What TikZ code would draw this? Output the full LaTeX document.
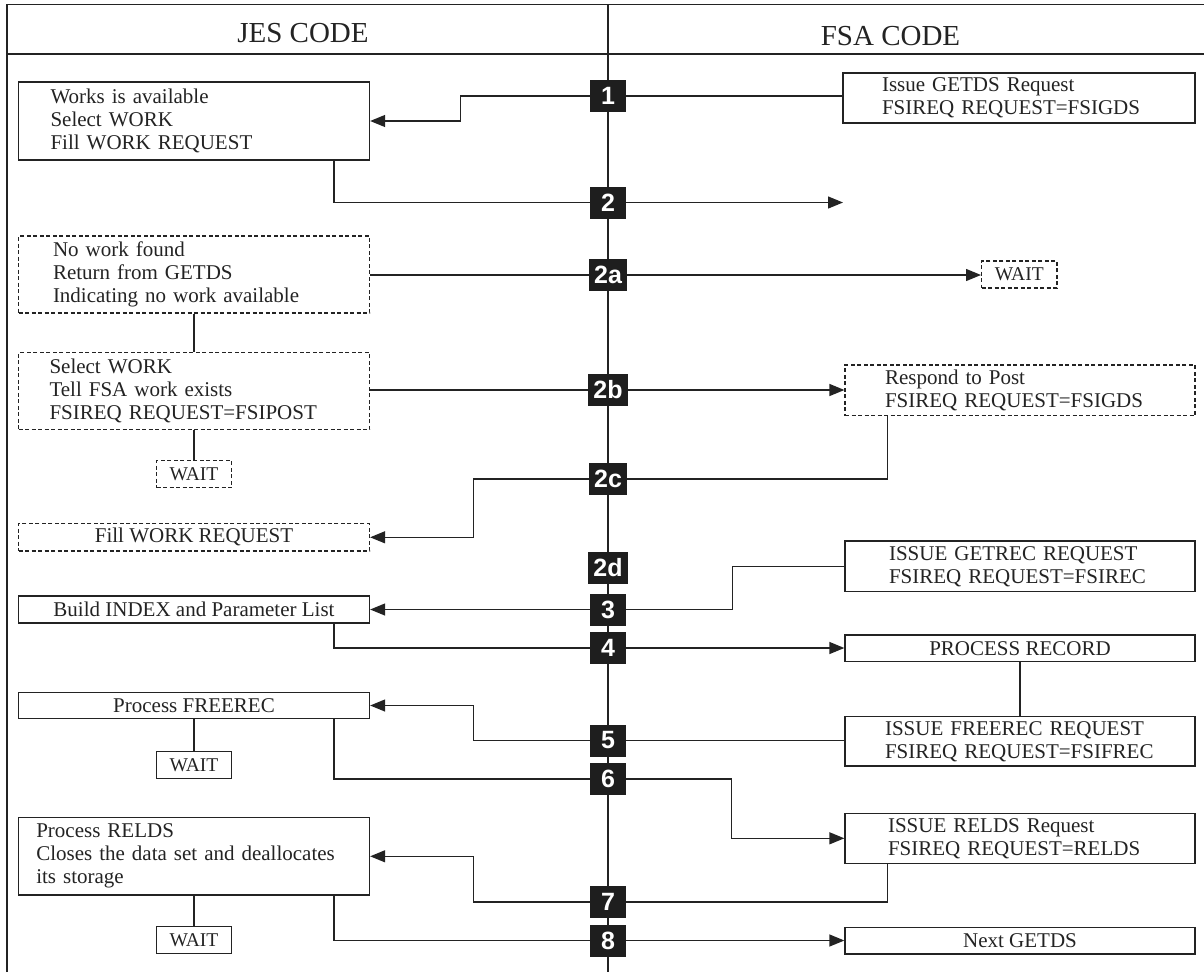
\documentclass[tikz,border=0pt]{standalone}
\usepackage{fontspec}
\setmainfont{Liberation Serif}
\newfontfamily\badgefam{Liberation Sans}
\usetikzlibrary{arrows.meta}
\definecolor{lc}{RGB}{35,35,35}
\definecolor{bc}{RGB}{30,30,30}
\begin{document}
\begin{tikzpicture}[x=1pt,y=-1pt,
  ln/.style={line width=1.3pt, draw=lc},
  arr/.style={ln, -{Triangle[length=15pt,width=12pt]}},
  txt/.style={font=\fontsize{21}{23}\selectfont, text=lc},
  lbox/.style={txt, draw=lc, line width=1.3pt, rectangle, align=left, inner ysep=1pt},
  cbox/.style={txt, draw=lc, line width=1.3pt, rectangle, align=center, inner xsep=2pt, inner ysep=1pt},
  wbox/.style={cbox, font=\fontsize{19.5}{21}\selectfont, minimum width=75pt, minimum height=27pt},
  dsh/.style={dash pattern=on 4pt off 2.5pt, line width=1.2pt},
  badge/.style={fill=bc, text=white, font=\badgefam\bfseries\fontsize{25}{25}\selectfont, minimum width=36pt, minimum height=32pt, inner xsep=5pt, inner ysep=0pt},
  head/.style={font=\fontsize{29}{29}\selectfont, text=lc, anchor=base, inner sep=0pt}
]
\useasboundingbox (0,0) rectangle (1204,972);
% frame
\draw[ln] (7,972) -- (7,4.7) -- (1204,4.7);
\draw[ln] (7,54) -- (1204,54);
\draw[ln] (608,4.7) -- (608,972);
\node[head] (hj) at (303,42) {JES CODE};
\node[head] (hf) at (890.5,45) {FSA CODE};

% badges
\node[badge] (n1) at (608,96) {1};
\node[badge] (n2) at (608,202.5) {2};
\node[badge] (n2a) at (608,275) {2a};
\node[badge] (n2b) at (608,390) {2b};
\node[badge] (n2c) at (608,479) {2c};
\node[badge] (n2d) at (608,567.5) {2d};
\node[badge] (n3) at (608,609.5) {3};
\node[badge] (n4) at (608,648) {4};
\node[badge] (n5) at (608,740.5) {5};
\node[badge] (n6) at (608,779) {6};
\node[badge] (n7) at (608,902) {7};
\node[badge] (n8) at (608,940.5) {8};

% JES boxes
\node[lbox, minimum width=351pt, minimum height=78pt, inner xsep=32pt, text width=287pt] (b1) at (194,121) {Works is available\\Select WORK\\Fill WORK REQUEST};
\node[lbox, dsh, minimum width=351pt, minimum height=77pt, inner xsep=34.5pt, text width=282pt] (b2a) at (194,274.5) {No work found\\Return from GETDS\\Indicating no work available};
\node[lbox, dsh, minimum width=351pt, minimum height=77pt, inner xsep=31pt, text width=289pt] (b2b) at (194,391.3) {Select WORK\\Tell FSA work exists\\FSIREQ REQUEST=FSIPOST};
\node[wbox, dsh] (w2b) at (194,474) {WAIT};
\node[cbox, dsh, minimum width=351pt, minimum height=27.4pt] (b2c) at (194,537.3) {Fill WORK REQUEST};
\node[cbox, minimum width=351pt, minimum height=27pt] (b3) at (194,609.5) {Build INDEX and Parameter List};
\node[cbox, minimum width=351pt, minimum height=26.6pt] (b5) at (194,705.5) {Process FREEREC};
\node[wbox] (w5) at (194,765) {WAIT};
\node[lbox, minimum width=351pt, minimum height=77.3pt, inner xsep=17.8pt, text width=315.4pt] (b7) at (194,856.3) {Process RELDS\\Closes the data set and deallocates\\its storage};
\node[wbox] (w7) at (194,940) {WAIT};

% FSA boxes
\node[lbox, minimum width=352pt, minimum height=50pt, inner xsep=39pt, text width=274pt] (f1) at (1019,98) {Issue GETDS Request\\FSIREQ REQUEST=FSIGDS};
\node[wbox, dsh, minimum width=75.4pt] (w2a) at (1019.3,274.5) {WAIT};
\node[lbox, dsh, minimum width=350pt, minimum height=50.7pt, inner xsep=40pt, text width=270pt] (f2b) at (1020,390.3) {Respond to Post\\FSIREQ REQUEST=FSIGDS};
\node[lbox, minimum width=350pt, minimum height=50.7pt, inner xsep=44pt, text width=262pt] (f3) at (1020,566.4) {ISSUE GETREC REQUEST\\FSIREQ REQUEST=FSIREC};
\node[cbox, minimum width=350pt, minimum height=26.7pt] (f4) at (1020,648.3) {PROCESS RECORD};
\node[lbox, minimum width=350pt, minimum height=49.3pt, inner xsep=40pt, text width=270pt] (f5) at (1020,741.3) {ISSUE FREEREC REQUEST\\FSIREQ REQUEST=FSIFREC};
\node[lbox, minimum width=350pt, minimum height=50pt, inner xsep=43pt, text width=264pt] (f7) at (1020,838.3) {ISSUE RELDS Request\\FSIREQ REQUEST=RELDS};
\node[cbox, minimum width=350pt, minimum height=26.7pt] (f8) at (1020,940.7) {Next GETDS};

\coordinate (e2) at (843,202.5);

% connectors
\draw[ln] (n1.east) -- (n1.east -| f1.west);
\draw[arr] (n1.west) -| ([xshift=90.4pt]b1.east) -- (b1.east);
\draw[ln] ([xshift=140pt]b1.south) |- (n2.west);
\draw[arr] (n2.east) -- (e2);
\draw[ln] (n2a.west -| b2a.east) -- (n2a.west);
\draw[arr] (n2a.east) -- (n2a.east -| w2a.west);
\draw[ln] (b2a.south) -- (b2b.north);
\draw[ln] (n2b.west -| b2b.east) -- (n2b.west);
\draw[arr] (n2b.east) -- (n2b.east -| f2b.west);
\draw[ln] (b2b.south) -- (w2b.north);
\draw[ln] ([xshift=43.4pt]f2b.south west) |- (n2c.east);
\draw[arr] (n2c.west) -| ([xshift=103.4pt]b2c.east) -- (b2c.east);
\draw[ln] (f3.west) -- ++(-112,0) |- (n3.east);
\draw[arr] (n3.west) -- (n3.west -| b3.east);
\draw[ln] ([xshift=140pt]b3.south) |- (n4.west);
\draw[arr] (n4.east) -- (n4.east -| f4.west);
\draw[ln] (f4.south) -- (f5.north);
\draw[ln] (n5.east) -- (n5.east -| f5.west);
\draw[arr] (n5.west) -| ([xshift=103.4pt]b5.east) -- (b5.east);
\draw[ln] (b5.south) -- (w5.north);
\draw[ln] ([xshift=140pt]b5.south) |- (n6.west);
\draw[arr] (n6.east) -| ([xshift=-112.6pt]f7.west) -- (f7.west);
\draw[ln] ([xshift=43.4pt]f7.south west) |- (n7.east);
\draw[arr] (n7.west) -| ([xshift=103.4pt]b7.east) -- (b7.east);
\draw[ln] (b7.south) -- (w7.north);
\draw[ln] ([xshift=140pt]b7.south) |- (n8.west);
\draw[arr] (n8.east) -- (n8.east -| f8.west);
\end{tikzpicture}
\end{document}
